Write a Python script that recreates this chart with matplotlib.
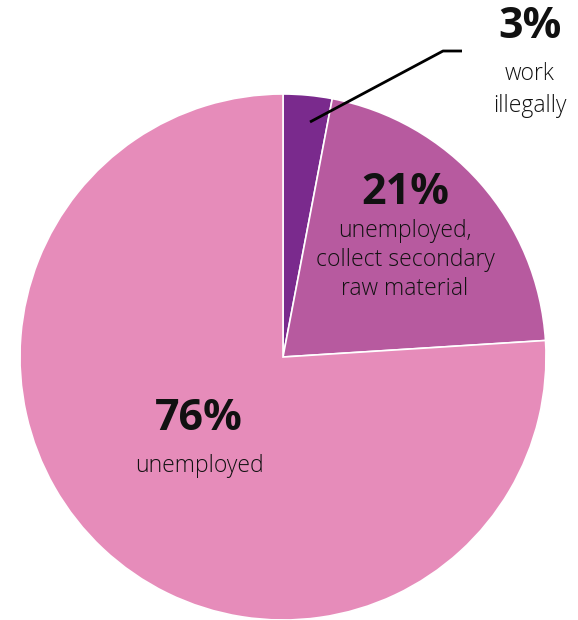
import matplotlib
matplotlib.use("Agg")
import matplotlib.pyplot as plt

values = [3, 21, 76]
pct_labels = ["3%", "21%", "76%"]
desc_labels = ["work\nillegally", "unemployed,\ncollect secondary\nraw material", "unemployed"]
colors = ["#7a2a8d", "#b75a9f", "#e68cba"]

plt.rcParams['font.family'] = ['Open Sans', 'DejaVu Sans']

fig = plt.figure(figsize=(5.78, 6.2), dpi=100)
ax = fig.add_axes([0, 0, 1, 1])

cx, cy, r = 283, 263, 263
ax.pie(values, colors=colors, startangle=90, counterclock=False,
       center=(cx, cy), radius=r, frame=True,
       wedgeprops=dict(edgecolor='white', linewidth=1.2))
ax.set_xlim(0, 578)
ax.set_ylim(0, 620)
ax.axis('off')

# leader line for 3%
ax.plot([310, 443, 462], [620 - 122, 620 - 51, 620 - 51], color='black', lw=2, solid_capstyle='butt')

def T(x, y, s, size, weight='normal', ls=1.2):
    ax.text(x, 620 - y, s, ha='center', va='center', fontsize=size,
            fontweight=weight, color='#111111', linespacing=ls)

T(530, 26, pct_labels[0], 31, 'bold')
T(530, 90, desc_labels[0], 16.5, 'light', ls=1.5)
T(405, 193, pct_labels[1], 31, 'bold')
T(405, 260, desc_labels[1], 16.5, 'light', ls=1.3)
T(199, 419, pct_labels[2], 31, 'bold')
T(199, 466, desc_labels[2], 16.5, 'light')

fig.savefig("out.png", dpi=100)
